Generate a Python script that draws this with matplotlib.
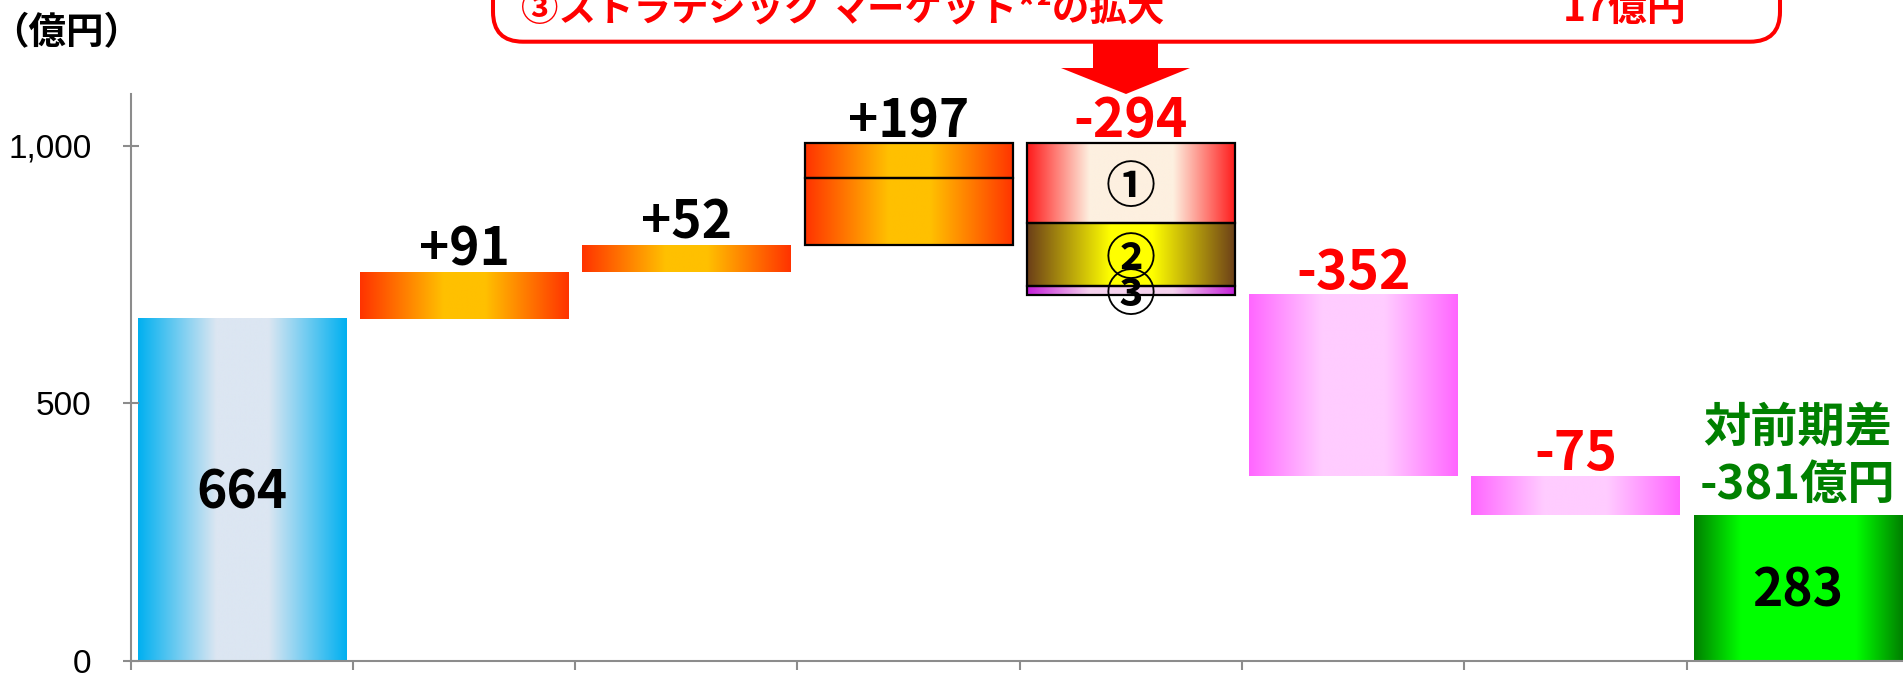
import numpy as np
import matplotlib
matplotlib.use("Agg")
import matplotlib.pyplot as plt
from matplotlib.patches import FancyBboxPatch, Polygon
from matplotlib.colors import to_rgb
from matplotlib.transforms import Affine2D

# ---- data (億円) ----
start_total = 664
deltas = [91, 52, 197, -294, -352, -75]
# the +197 step is drawn as two stacked parts (bottom to top)
rise_parts = [131, 66]
# the -294 step is split into three factors (top to bottom): ①, ②, ③
drop_parts = [154, 123, 17]
drop_marks = ["①", "②", "③"]
y_ticks = [0, 500, 1000]
y_tick_labels = ["0", "500", "1,000"]
unit_label = "（億円）"
banner_left = "③ストラテジック マーケット*²の拡大"
banner_right = "17億円"
diff_caption = "対前期差"

end_total = start_total + sum(deltas)

W, H = 1903, 673
JP = "Noto Sans CJK JP"

fig = plt.figure(figsize=(W / 100, H / 100), dpi=100)
ax = fig.add_axes([130.5 / W, 12 / H, (1909 - 130.5) / W, (661 - 94) / H])
px = Affine2D().scale(1 / W, 1 / H) + fig.transFigure  # pixel coords, origin bottom-left

BAR_W = 0.936
RED = "#FF0000"
GREEN = "#008000"

palettes = {
    "blue": ("#00B0F0", "#DCE6F2", 0.25),
    "orange": ("#FF3300", "#FFC000", 0.2),
    "f1": ("#FF1A1A", "#FDF0E0", 0.4),
    "f2": ("#6B3E18", "#FFFF00", 0.2),
    "f3": ("#C41ED8", "#F5D2EE", 0.4),
    "pink": ("#FF66FF", "#FFCCFF", 0.3),
    "green": ("#008000", "#00FF00", 0.55),
}


def gradient_fill(patch, key):
    edge, center, plateau = palettes[key]
    x0, y0 = patch.get_x(), patch.get_y()
    w, h = patch.get_width(), patch.get_height()
    t = np.abs(np.linspace(-1, 1, 400))
    f = np.clip((t - plateau) / (1 - plateau), 0, 1)
    e, c = np.array(to_rgb(edge)), np.array(to_rgb(center))
    row = c + (e - c) * f[:, None]
    ax.imshow(row[None, :, :], extent=(x0, x0 + w, y0, y0 + h), aspect="auto",
              interpolation="bilinear", zorder=1)


def draw_bar(x, bottom, height, key, outline=False):
    bars = ax.bar(x, height, bottom=bottom, width=BAR_W, color="none",
                  edgecolor="black" if outline else "none",
                  linewidth=1.6 if outline else 0, zorder=3)
    gradient_fill(bars[0], key)
    return bars[0]


centers = np.arange(len(deltas) + 2) + 0.5

# opening total
draw_bar(centers[0], 0, start_total, "blue")
ax.annotate(str(start_total), (centers[0], start_total / 2), xytext=(0, -13.5),
            textcoords="offset points", ha="center", va="baseline",
            fontsize=37, fontweight="bold", family=JP, color="black", zorder=5)

level = start_total
for i, d in enumerate(deltas):
    x = centers[i + 1]
    lo, hi = (level, level + d) if d > 0 else (level + d, level)
    if i == 2:
        b = lo
        for part in rise_parts:
            draw_bar(x, b, part, "orange", outline=True)
            b += part
    elif i == 3:
        t = hi
        for part, key, mark in zip(drop_parts, ["f1", "f2", "f3"], drop_marks):
            draw_bar(x, t - part, part, key, outline=True)
            ax.text(x, t - part / 2, mark, ha="center", va="center_baseline",
                    fontsize=36, family=JP, fontweight="bold", color="black", zorder=6)
            t -= part
    else:
        draw_bar(x, lo, hi - lo, "orange" if d > 0 else "pink")
    ax.annotate(f"{d:+d}", (x, hi), xytext=(0, 4.5), textcoords="offset points",
                ha="center", va="baseline", fontsize=37 if d > 0 else 38.5,
                fontweight="bold", family=JP, color="black" if d > 0 else RED, zorder=5)
    level += d

# closing total
xe = centers[-1]
draw_bar(xe, 0, end_total, "green")
ax.annotate(str(end_total), (xe, end_total / 2), xytext=(0, -13.5),
            textcoords="offset points", ha="center", va="baseline",
            fontsize=37, fontweight="bold", family=JP, color="black", zorder=5)
ax.annotate(f"{end_total - start_total:d}億円", (xe, end_total), xytext=(0, 12),
            textcoords="offset points", ha="center", va="baseline",
            fontsize=34, fontweight="bold", family=JP, color=GREEN, zorder=5)
ax.annotate(diff_caption, (xe, end_total), xytext=(0, 53),
            textcoords="offset points", ha="center", va="baseline",
            fontsize=34, fontweight="bold", family=JP, color=GREEN, zorder=5)

# axes styling
ax.set_xlim(0, len(centers))
ax.set_ylim(0, 1100)
for s in ("top", "right"):
    ax.spines[s].set_visible(False)
for s in ("left", "bottom"):
    ax.spines[s].set_color("#8c8c8c")
    ax.spines[s].set_linewidth(1.5)
ax.set_yticks(y_ticks)
ax.set_yticklabels(y_tick_labels, fontsize=24, family="Liberation Sans")
ax.set_xticks(np.arange(len(centers) + 1))
ax.set_xticklabels([])
ax.tick_params(axis="y", direction="inout", length=12, width=1.5, color="#8c8c8c", pad=22)
ax.tick_params(axis="x", direction="out", length=6.5, width=1.5, color="#8c8c8c")
ax.patch.set_alpha(0)
for sp in ax.spines.values():
    sp.set_zorder(4)

# unit label
fig.text(66, 629, unit_label, transform=px, ha="center", va="baseline",
         fontsize=27, fontweight="bold", family=JP, color="black")

# banner box (runs off the top edge) with its pointer arrow
box = FancyBboxPatch((493, 673 - 41.7), 1780 - 493, 120,
                     boxstyle="round,pad=0,rounding_size=30", transform=px,
                     facecolor="white", edgecolor=RED, linewidth=2.9, clip_on=False)
fig.add_artist(box)
arrow = Polygon([(1093, 673 - 41), (1158, 673 - 41), (1158, 673 - 68), (1190, 673 - 68),
                 (1126, 673 - 94), (1061, 673 - 68), (1093, 673 - 68)],
                closed=True, transform=px, facecolor=RED, edgecolor="none", clip_on=False)
fig.add_artist(arrow)
fig.text(521, 673 - 21, banner_left, transform=px, ha="left", va="baseline",
         fontsize=27, fontweight="bold", family=JP, color=RED)
fig.text(1687, 673 - 21, banner_right, transform=px, ha="right", va="baseline",
         fontsize=28, fontweight="bold", family=JP, color=RED)

fig.savefig("out.png", dpi=100)
